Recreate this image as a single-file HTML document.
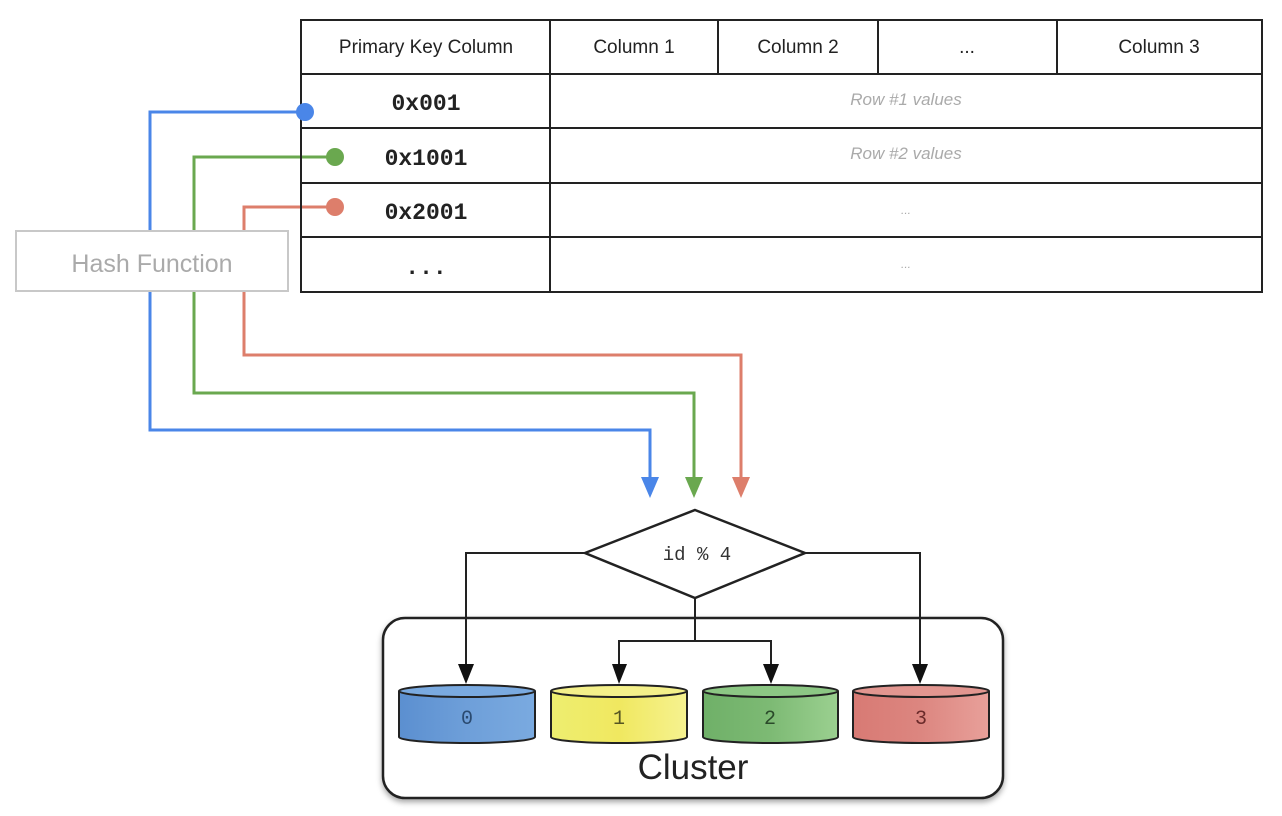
<!DOCTYPE html>
<html><head><meta charset="utf-8"><style>
html,body{margin:0;padding:0;background:#fff;}
svg{display:block;}
</style></head><body>
<svg width="1282" height="816" viewBox="0 0 1282 816" xmlns="http://www.w3.org/2000/svg">
<defs>
<filter id="sh" x="-5%" y="-5%" width="110%" height="115%"><feDropShadow dx="0" dy="3" stdDeviation="3" flood-color="#000" flood-opacity="0.35"/></filter>
<linearGradient id="gb" x1="0" x2="1"><stop offset="0" stop-color="#5b8fd0"/><stop offset="0.5" stop-color="#6e9fd9"/><stop offset="1" stop-color="#7aaae0"/></linearGradient>
<linearGradient id="gy" x1="0" x2="1"><stop offset="0" stop-color="#eeee70"/><stop offset="0.5" stop-color="#f0e860"/><stop offset="1" stop-color="#f6f290"/></linearGradient>
<linearGradient id="gg" x1="0" x2="1"><stop offset="0" stop-color="#6fb068"/><stop offset="0.5" stop-color="#7dba74"/><stop offset="1" stop-color="#9bd090"/></linearGradient>
<linearGradient id="gr" x1="0" x2="1"><stop offset="0" stop-color="#d87a74"/><stop offset="0.5" stop-color="#dc8680"/><stop offset="1" stop-color="#e8a09a"/></linearGradient>
</defs>

<!-- connectors -->
<g fill="none" stroke-width="3">
<polyline points="305,112 150,112 150,430 650,430 650,480" stroke="#4a86e8"/>
<polyline points="335,157 194,157 194,393 694,393 694,480" stroke="#6aa84f"/>
<polyline points="335,207 244,207 244,355 741,355 741,480" stroke="#dd7e6b"/>
</g>
<polygon points="641,477 659,477 650,498" fill="#4a86e8"/>
<polygon points="685,477 703,477 694,498" fill="#6aa84f"/>
<polygon points="732,477 750,477 741,498" fill="#dd7e6b"/>

<!-- table -->
<g stroke="#222" stroke-width="2" fill="none">
<rect x="301" y="20" width="961" height="272" fill="none"/>
<line x1="301" y1="74" x2="1262" y2="74"/>
<line x1="301" y1="128" x2="1262" y2="128"/>
<line x1="301" y1="183" x2="1262" y2="183"/>
<line x1="301" y1="237" x2="1262" y2="237"/>
<line x1="550" y1="20" x2="550" y2="292"/>
<line x1="718" y1="20" x2="718" y2="74"/>
<line x1="878" y1="20" x2="878" y2="74"/>
<line x1="1057" y1="20" x2="1057" y2="74"/>
</g>
<circle cx="305" cy="112" r="9" fill="#4a86e8"/>
<circle cx="335" cy="157" r="9" fill="#6aa84f"/>
<circle cx="335" cy="207" r="9" fill="#dd7e6b"/>
<g font-family="Liberation Sans, sans-serif" font-size="19" fill="#222" text-anchor="middle">
<text x="426" y="53">Primary Key Column</text>
<text x="634" y="53">Column 1</text>
<text x="798" y="53">Column 2</text>
<text x="967" y="53">...</text>
<text x="1159" y="53">Column 3</text>
</g>
<g font-family="Liberation Mono, monospace" font-size="23" font-weight="bold" fill="#222" text-anchor="middle">
<text x="426" y="110">0x001</text>
<text x="426" y="165">0x1001</text>
<text x="426" y="219">0x2001</text>
<text x="426" y="274">...</text>
</g>
<g font-family="Liberation Sans, sans-serif" font-size="17" font-style="italic" fill="#aaa" text-anchor="middle">
<text x="906" y="105">Row #1 values</text>
<text x="906" y="159">Row #2 values</text>
<text x="906" y="214" font-size="12">...</text>
<text x="906" y="268" font-size="12">...</text>
</g>

<!-- hash function -->
<rect x="16" y="231" width="272" height="60" fill="#fff" stroke="#c8c8c8" stroke-width="2"/>
<text x="152" y="272" font-family="Liberation Sans, sans-serif" font-size="25" fill="#aaa" text-anchor="middle">Hash Function</text>

<!-- cluster -->
<rect x="383" y="618" width="620" height="180" rx="22" fill="#fff" stroke="#222" stroke-width="2.5" filter="url(#sh)"/>
<text x="693" y="779" font-family="Liberation Sans, sans-serif" font-size="35" fill="#222" text-anchor="middle">Cluster</text>

<!-- diamond & arrows -->
<g stroke="#222" stroke-width="2" fill="none">
<polyline points="585,553 466,553 466,668"/>
<polyline points="805,553 920,553 920,668"/>
<polyline points="695,598 695,641 619,641 619,668"/>
<polyline points="695,641 771,641 771,668"/>
</g>
<g fill="#111">
<polygon points="458,664 474,664 466,684"/>
<polygon points="612,664 627,664 619,684"/>
<polygon points="763,664 779,664 771,684"/>
<polygon points="912,664 928,664 920,684"/>
</g>
<polygon points="695,510 805,553 695,598 585,553" fill="#fff" stroke="#222" stroke-width="2.5"/>
<text x="697" y="560" font-family="Liberation Mono, monospace" font-size="19" fill="#333" text-anchor="middle">id % 4</text>

<!-- cylinders -->
<g stroke="#222" stroke-width="2">
<path d="M399,691 L399,737 A68,6 0 0 0 535,737 L535,691" fill="url(#gb)"/>
<ellipse cx="467" cy="691" rx="68" ry="6" fill="#7aaae0"/>
<path d="M551,691 L551,737 A68,6 0 0 0 687,737 L687,691" fill="url(#gy)"/>
<ellipse cx="619" cy="691" rx="68" ry="6" fill="#f4f08a"/>
<path d="M703,691 L703,737 A67.5,6 0 0 0 838,737 L838,691" fill="url(#gg)"/>
<ellipse cx="770.5" cy="691" rx="67.5" ry="6" fill="#8cc784"/>
<path d="M853,691 L853,737 A68,6 0 0 0 989,737 L989,691" fill="url(#gr)"/>
<ellipse cx="921" cy="691" rx="68" ry="6" fill="#e29690"/>
</g>
<g font-family="Liberation Mono, monospace" font-size="20" text-anchor="middle">
<text x="467" y="724" fill="#2a4a70">0</text>
<text x="619" y="724" fill="#555522">1</text>
<text x="770" y="724" fill="#2a4a2a">2</text>
<text x="921" y="724" fill="#6a2a2a">3</text>
</g>
</svg>
</body></html>
